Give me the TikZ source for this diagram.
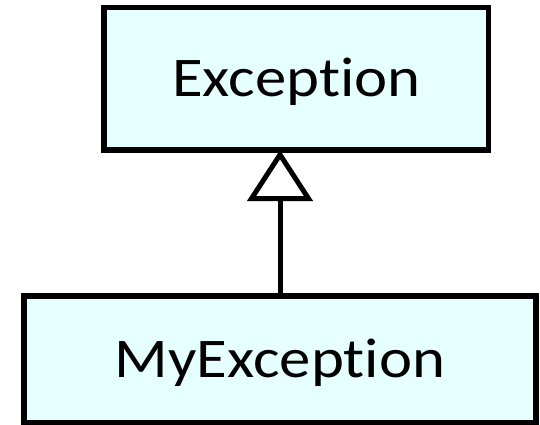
\documentclass[tikz,border=0pt]{standalone}
\usepackage{fontspec}
\setmainfont[Ligatures={NoCommon},RawFeature={-liga}]{Carlito}
\usetikzlibrary{arrows.meta}
\definecolor{boxfill}{HTML}{E6FFFF}
\newcommand{\widetext}[1]{\scalebox{1.12}[1]{#1}}
\tikzset{
  classbox/.style={draw=black, fill=boxfill, line width=5.5pt, outer sep=0pt, inner sep=0pt,
    font=\fontsize{56}{60}\selectfont, text height=36pt, text depth=0pt, align=center},
  inherit/.style={line width=5pt, -{Triangle[open, length=51pt, width=65pt, line join=miter]}}
}
\begin{document}
\begin{tikzpicture}[x=1pt, y=-1pt]
  \useasboundingbox (0,0) rectangle (540,424);
  \node[classbox, minimum width=384.7pt, minimum height=142.5pt] (super) at (296.3,78.8) {\widetext{Exception}};
  \node[classbox, minimum width=512pt, minimum height=126.5pt] (sub) at (280,359.3) {\widetext{MyException}};
  \draw[inherit] (sub.north) -- (super.south -| sub.north);
\end{tikzpicture}
\end{document}
